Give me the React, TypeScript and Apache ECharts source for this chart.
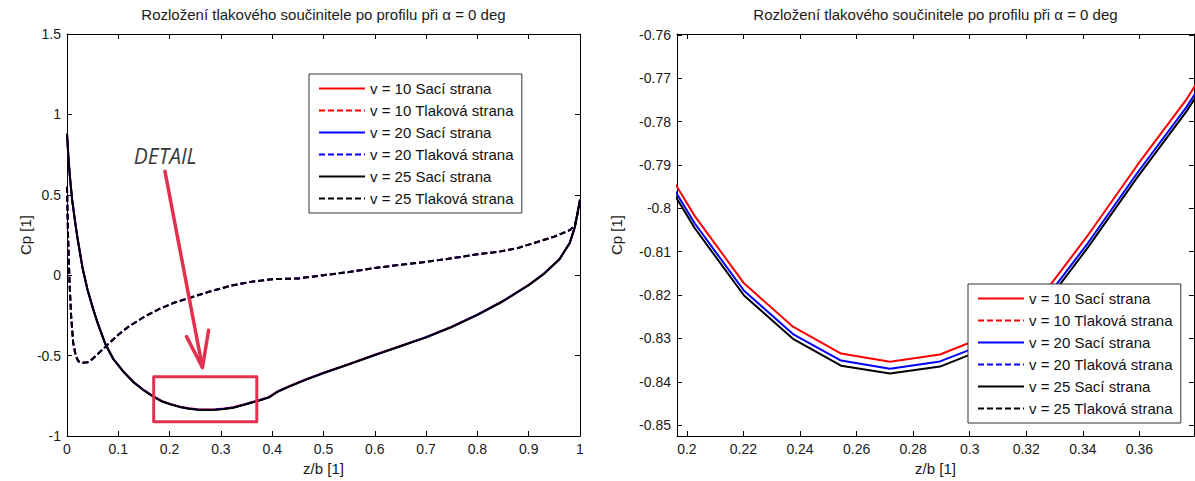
import React, { useEffect, useRef } from "react";
import * as echarts from "echarts";

const FONT = '"Liberation Sans", Arial, Helvetica, sans-serif';
const TITLE = "Rozložení tlakového součinitele po profilu při α = 0 deg";
const X_NAME = "z/b [1]";
const Y_NAME = "Cp [1]";

const seriesNames = [
  "v = 10 Sací strana",
  "v = 10 Tlaková strana",
  "v = 20 Sací strana",
  "v = 20 Tlaková strana",
  "v = 25 Sací strana",
  "v = 25 Tlaková strana",
];
const seriesColors = ["#ff0000", "#ff0000", "#0000ff", "#0000ff", "#000000", "#000000"];
const seriesDashed = [false, true, false, true, false, true];

// suction side (Sací strana)
const suctionX = [
  0, 0.003, 0.006, 0.01, 0.015, 0.02, 0.03, 0.04, 0.05, 0.06, 0.075, 0.09, 0.11, 0.13, 0.15,
  0.168, 0.1853, 0.2028, 0.2202, 0.2375, 0.2545, 0.2718, 0.2895, 0.3068, 0.3243, 0.3418,
  0.3593, 0.3767, 0.394, 0.41, 0.43, 0.46, 0.5, 0.55, 0.6, 0.65, 0.7, 0.75, 0.8, 0.85, 0.9,
  0.93, 0.96, 0.98, 0.99, 1.0,
];
const suctionCp10 = [
  0.88, 0.72, 0.6, 0.47, 0.35, 0.24, 0.05, -0.09, -0.2, -0.3, -0.43, -0.52, -0.6, -0.665, -0.715,
  -0.752, -0.783, -0.8018, -0.8173, -0.8273, -0.8335, -0.8354, -0.8337, -0.8292, -0.8213, -0.8062,
  -0.79, -0.7748, -0.757, -0.724, -0.695, -0.655, -0.607, -0.552, -0.495, -0.44, -0.385, -0.32,
  -0.245, -0.16, -0.06, 0.01, 0.1, 0.2, 0.3, 0.47,
];
const suctionCp20 = [
  0.88, 0.72, 0.6, 0.47, 0.35, 0.24, 0.05, -0.09, -0.2, -0.3, -0.43, -0.52, -0.6, -0.666, -0.716,
  -0.754, -0.7847, -0.8035, -0.819, -0.829, -0.8351, -0.837, -0.8353, -0.8309, -0.823, -0.808,
  -0.7918, -0.7766, -0.759, -0.725, -0.696, -0.656, -0.608, -0.553, -0.496, -0.441, -0.386, -0.321,
  -0.246, -0.161, -0.061, 0.01, 0.1, 0.2, 0.3, 0.47,
];
const suctionCp25 = [
  0.88, 0.72, 0.6, 0.47, 0.35, 0.24, 0.05, -0.09, -0.2, -0.3, -0.43, -0.52, -0.6, -0.667, -0.717,
  -0.755, -0.7858, -0.8046, -0.8201, -0.8301, -0.8363, -0.8381, -0.8365, -0.832, -0.8241, -0.809,
  -0.7928, -0.7776, -0.76, -0.726, -0.697, -0.657, -0.609, -0.554, -0.497, -0.442, -0.387, -0.322,
  -0.247, -0.162, -0.062, 0.009, 0.099, 0.2, 0.3, 0.47,
];

// pressure side (Tlaková strana)
const pressureX = [
  0, 0.002, 0.005, 0.008, 0.012, 0.017, 0.022, 0.03, 0.04, 0.05, 0.06, 0.08, 0.1, 0.12, 0.15,
  0.18, 0.21, 0.24, 0.28, 0.32, 0.36, 0.4, 0.45, 0.5, 0.55, 0.6, 0.65, 0.7, 0.75, 0.8, 0.84,
  0.88, 0.92, 0.95, 0.98, 0.99, 1.0,
];
const pressureCp10 = [
  0.55, 0.25, -0.05, -0.25, -0.42, -0.5, -0.535, -0.545, -0.542, -0.52, -0.49, -0.43, -0.37, -0.32,
  -0.26, -0.21, -0.17, -0.14, -0.1, -0.065, -0.04, -0.025, -0.02, 0.0, 0.02, 0.045, 0.065, 0.083,
  0.105, 0.13, 0.145, 0.17, 0.21, 0.24, 0.28, 0.31, 0.45,
];
const pressureCp20 = [
  0.55, 0.25, -0.05, -0.25, -0.42, -0.5, -0.535, -0.545, -0.542, -0.52, -0.49, -0.43, -0.37, -0.32,
  -0.26, -0.21, -0.17, -0.14, -0.1, -0.065, -0.04, -0.025, -0.02, 0.0, 0.02, 0.045, 0.065, 0.083,
  0.105, 0.13, 0.145, 0.17, 0.21, 0.24, 0.28, 0.31, 0.45,
];
const pressureCp25 = [
  0.55, 0.25, -0.05, -0.25, -0.42, -0.5, -0.535, -0.545, -0.542, -0.52, -0.49, -0.43, -0.37, -0.32,
  -0.26, -0.21, -0.17, -0.14, -0.1, -0.065, -0.04, -0.025, -0.02, 0.0, 0.02, 0.045, 0.065, 0.083,
  0.105, 0.13, 0.145, 0.17, 0.21, 0.24, 0.28, 0.31, 0.45,
];

// axes
const overviewX = { min: 0, max: 1, step: 0.1 };
const overviewY = { min: -1, max: 1.5, step: 0.5 };
const detailX = { min: 0.1965, max: 0.3793, step: 0.02 };
const detailY = { min: -0.8525, max: -0.7598, step: 0.01 };

// annotation (data coordinates of the overview plot)
const detailBoxX = [0.169, 0.37];
const detailBoxY = [-0.911, -0.632];
const arrowShaft = [
  [0.191, 0.646],
  [0.264, -0.574],
];
const arrowHead = [
  [0.233, -0.382],
  [0.264, -0.574],
  [0.276, -0.342],
];
const detailLabelPos = [0.1915, 0.739];
const ANNOT = "#e2304e";

const GRIDS = [
  { left: 67, top: 34, width: 513, height: 402 },
  { left: 677, top: 34, width: 517, height: 402 },
];

export default function App() {
  const ref = useRef<HTMLDivElement>(null);

  useEffect(() => {
    if (!ref.current) return;
    const chart = echarts.init(ref.current, undefined, { renderer: "svg" });

    const zip = (xs: number[], ys: number[]) => xs.map((x, i) => [x, ys[i]]);
    const curves = [
      zip(suctionX, suctionCp10),
      zip(pressureX, pressureCp10),
      zip(suctionX, suctionCp20),
      zip(pressureX, pressureCp20),
      zip(suctionX, suctionCp25),
      zip(pressureX, pressureCp25),
    ];

    const labelStyle = { color: "#1a1a1a", fontSize: 14, fontFamily: FONT };
    const tick = { show: true, inside: true, length: 5, lineStyle: { color: "#000", width: 1 } };
    const line = { show: true, onZero: false, lineStyle: { color: "#000", width: 1 } };

    const axisRange = (r: any, fixed: boolean) =>
      fixed
        ? { min: r.min, max: r.max, interval: r.step }
        : { min: r.min, max: r.max, minInterval: r.step, maxInterval: r.step, splitNumber: 9 };

    const xAxes: any[] = [];
    const yAxes: any[] = [];
    [
      [overviewX, overviewY, true, 31],
      [detailX, detailY, false, 53],
    ].forEach(([rx, ry, fixed, yGap]: any, g) => {
      const hideEnds = fixed ? {} : { showMinLabel: false, showMaxLabel: false };
      xAxes.push({
        type: "value",
        gridIndex: g,
        position: "bottom",
        ...axisRange(rx, fixed),
        axisLine: line,
        axisTick: tick,
        splitLine: { show: false },
        axisLabel: { ...labelStyle, margin: 6, ...hideEnds },
        name: X_NAME,
        nameLocation: "middle",
        nameGap: 23,
        nameTextStyle: { ...labelStyle, fontSize: 15 },
      });
      xAxes.push({
        type: "value",
        gridIndex: g,
        position: "top",
        ...axisRange(rx, fixed),
        axisLine: line,
        axisTick: tick,
        splitLine: { show: false },
        axisLabel: { show: false },
      });
      yAxes.push({
        type: "value",
        gridIndex: g,
        position: "left",
        ...axisRange(ry, fixed),
        axisLine: line,
        axisTick: tick,
        splitLine: { show: false },
        axisLabel: { ...labelStyle, margin: 6, ...hideEnds },
        name: Y_NAME,
        nameLocation: "middle",
        nameGap: yGap,
        nameTextStyle: { ...labelStyle, fontSize: 15 },
      });
      yAxes.push({
        type: "value",
        gridIndex: g,
        position: "right",
        ...axisRange(ry, fixed),
        axisLine: line,
        axisTick: tick,
        splitLine: { show: false },
        axisLabel: { show: false },
      });
    });

    const series: any[] = [];
    [0, 1].forEach((g) => {
      curves.forEach((data, i) => {
        series.push({
          type: "line",
          name: seriesNames[i],
          xAxisIndex: g * 2,
          yAxisIndex: g * 2,
          data,
          symbol: "none",
          showSymbol: false,
          silent: true,
          clip: true,
          z: 2,
          itemStyle: { color: seriesColors[i] },
          lineStyle: {
            color: seriesColors[i],
            width: 2,
            type: seriesDashed[i] ? [6, 3] : "solid",
          },
          emphasis: { disabled: true },
        });
      });
    });

    const box = [
      [detailBoxX[0], detailBoxY[1]],
      [detailBoxX[1], detailBoxY[1]],
      [detailBoxX[1], detailBoxY[0]],
      [detailBoxX[0], detailBoxY[0]],
      [detailBoxX[0], detailBoxY[1]],
    ];
    [box, arrowShaft, arrowHead].forEach((data, k) => {
      series.push({
        type: "line",
        name: "annot" + k,
        xAxisIndex: 0,
        yAxisIndex: 0,
        data,
        symbol: "none",
        silent: true,
        z: 5,
        lineStyle: { color: ANNOT, width: k === 0 ? 3 : 3.5, cap: "round", join: "round" },
        emphasis: { disabled: true },
      });
    });
    series.push({
      type: "scatter",
      name: "detailLabel",
      xAxisIndex: 0,
      yAxisIndex: 0,
      data: [detailLabelPos],
      symbolSize: 1,
      itemStyle: { color: "rgba(0,0,0,0)" },
      silent: true,
      z: 6,
      label: {
        show: true,
        position: "inside",
        formatter: "DETAIL",
        fontFamily: '"Open Sans", "Noto Sans", sans-serif',
        fontStyle: "italic",
        fontSize: 21,
        color: "#000000",
      },
    });

    const legendBase = {
      data: seriesNames,
      orient: "vertical",
      backgroundColor: "#ffffff",
      borderColor: "#333333",
      borderWidth: 1,
      padding: [7, 8, 7, 9],
      itemWidth: 46,
      itemHeight: 15,
      itemGap: 7,
      selectedMode: false,
      z: 10,
      itemStyle: { opacity: 0 },
      textStyle: { fontSize: 15, color: "#111111", fontFamily: FONT },
    };

    chart.setOption({
      animation: false,
      backgroundColor: "#ffffff",
      grid: GRIDS.map((g) => ({ ...g, containLabel: false })),
      xAxis: xAxes,
      yAxis: yAxes,
      legend: [
        { ...legendBase, left: 309, top: 74 },
        { ...legendBase, left: 968, top: 284 },
      ],
      graphic: GRIDS.map((g) => ({
        type: "text",
        x: g.left + g.width / 2,
        y: 14,
        style: {
          text: TITLE,
          align: "center",
          verticalAlign: "middle",
          fontFamily: FONT,
          fontSize: 15,
          fill: "#1a1a1a",
        },
      })),
      series,
    });

    return () => chart.dispose();
  }, []);

  return (
    <div
      ref={ref}
      style={{ position: "absolute", left: 0, top: 0, width: 1195, height: 481, background: "#fff" }}
    />
  );
}
